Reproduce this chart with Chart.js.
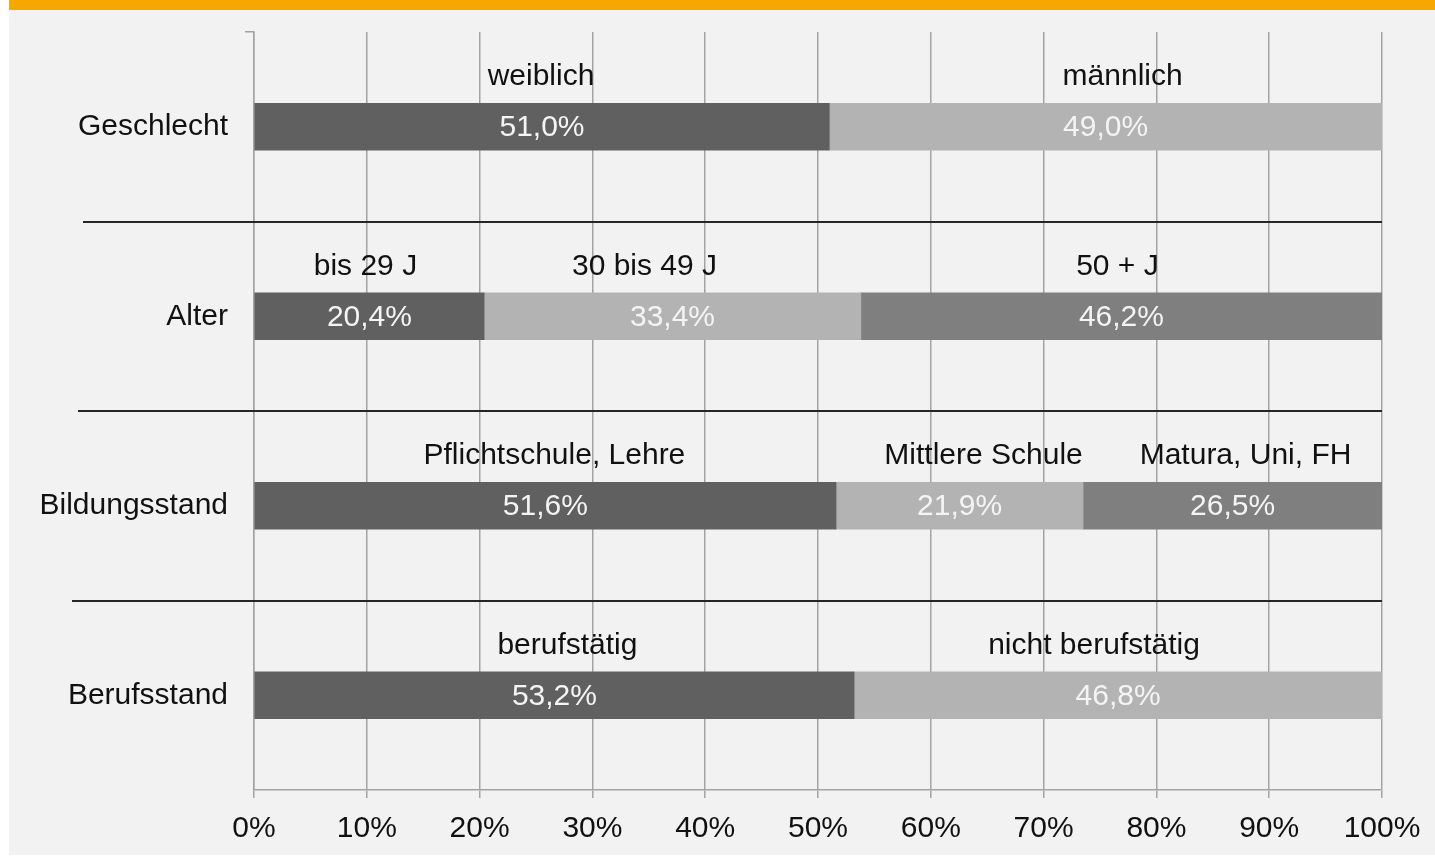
<!DOCTYPE html>
<html>
<head>
<meta charset="utf-8">
<script src="https://cdn.jsdelivr.net/npm/chart.js@4/dist/chart.umd.min.js"></script>
<style>
  html, body { margin: 0; padding: 0; background: #ffffff; }
  #band { position: absolute; left: 9px; top: 0; width: 1426px; height: 10px; background: #f6a800; }
  #box { position: absolute; left: 9px; top: 10px; width: 1426px; height: 845px; background: #f2f2f2; }
  canvas { display: block; }
</style>
</head>
<body>
<div id="band"></div>
<div id="box"><canvas id="c" width="1426" height="845"></canvas></div>
<script>
// ---- data ----
const categories = ["Geschlecht", "Alter", "Bildungsstand", "Berufsstand"];
const segment1Values = [51.0, 20.4, 51.6, 53.2];
const segment2Values = [49.0, 33.4, 21.9, 46.8];
const segment3Values = [0, 46.2, 26.5, 0];
const segment1Names = ["weiblich", "bis 29 J", "Pflichtschule, Lehre", "berufstätig"];
const segment2Names = ["männlich", "30 bis 49 J", "Mittlere Schule", "nicht berufstätig"];
const segment3Names = ["", "50 + J", "Matura, Uni, FH", ""];
const xTickValues = [0, 10, 20, 30, 40, 50, 60, 70, 80, 90, 100];

const FONT = "'Liberation Sans', Arial, sans-serif";
const segNames = [segment1Names, segment2Names, segment3Names];

const labelPlugin = {
  id: 'segLabels',
  afterDatasetsDraw(chart, args, opts) {
    const ctx = chart.ctx;
    const nudge = opts.nameNudge || [];
    ctx.save();
    ctx.textAlign = 'center';
    ctx.textBaseline = 'middle';
    ctx.font = '30px ' + FONT;
    chart.data.datasets.forEach((ds, di) => {
      const meta = chart.getDatasetMeta(di);
      meta.data.forEach((el, i) => {
        const v = ds.data[i];
        if (!v) return;
        const cx = (el.x + el.base) / 2;
        ctx.fillStyle = '#f4f4f4';
        ctx.fillText(v.toFixed(1).replace('.', ',') + '%', cx, el.y + 1);
        const name = segNames[di][i];
        if (name) {
          const dx = (nudge[i] && nudge[i][di]) || 0;
          ctx.fillStyle = '#111111';
          ctx.fillText(name, cx + dx, el.y - 50);
        }
      });
    });
    ctx.restore();
  }
};

const sepPlugin = {
  id: 'separators',
  afterDatasetsDraw(chart) {
    const ctx = chart.ctx;
    const y = chart.scales.y;
    const starts = [74, 69, 63];
    ctx.save();
    ctx.strokeStyle = '#262626';
    ctx.lineWidth = 2;
    for (let i = 0; i < categories.length - 1; i++) {
      const py = Math.round((y.getPixelForValue(i) + y.getPixelForValue(i + 1)) / 2);
      ctx.beginPath();
      ctx.moveTo(starts[i] ?? 70, py);
      ctx.lineTo(chart.chartArea.right, py);
      ctx.stroke();
    }
    ctx.restore();
  }
};

new Chart(document.getElementById('c'), {
  type: 'bar',
  data: {
    labels: categories,
    datasets: [
      { data: segment1Values, backgroundColor: '#606060', barThickness: 47 },
      { data: segment2Values, backgroundColor: '#b3b3b3', barThickness: 47 },
      { data: segment3Values, backgroundColor: '#7f7f7f', barThickness: 47 }
    ]
  },
  options: {
    indexAxis: 'y',
    responsive: false,
    animation: false,
    layout: { padding: { left: 0, right: 53, top: 22, bottom: 0 } },
    plugins: {
      legend: { display: false },
      tooltip: { enabled: false },
      segLabels: { nameNudge: [[-1, 17], [-4, -28, -4], [9, 24, 13], [13, -24]] }
    },
    scales: {
      x: {
        stacked: true,
        min: 0, max: 100,
        afterBuildTicks(scale) { scale.ticks = xTickValues.map(v => ({ value: v })); },
        afterFit(scale) { scale.height = 65; },
        ticks: {
          callback: v => v + '%',
          color: '#111111',
          font: { family: FONT, size: 30 },
          padding: 13,
          maxRotation: 0,
          autoSkip: false
        },
        grid: { color: '#a3a3a3', lineWidth: 1.5, tickLength: 8, tickColor: '#a3a3a3' },
        border: { display: true, color: '#a3a3a3', width: 1.5 }
      },
      y: {
        stacked: true,
        offset: true,
        afterFit(scale) { scale.width = 245; scale.paddingTop = 0; scale.paddingBottom = 0; },
        ticks: {
          color: '#111111',
          font: { family: FONT, size: 30 },
          padding: 17
        },
        grid: {
          offset: true,
          drawOnChartArea: false,
          tickLength: 9,
          lineWidth: 1.5,
          tickColor: ctx => (ctx.index === 0 || ctx.index === categories.length) ? '#a3a3a3' : 'rgba(0,0,0,0)'
        },
        border: { display: true, color: '#a3a3a3', width: 1.5 }
      }
    }
  },
  plugins: [labelPlugin, sepPlugin]
});
</script>
</body>
</html>
